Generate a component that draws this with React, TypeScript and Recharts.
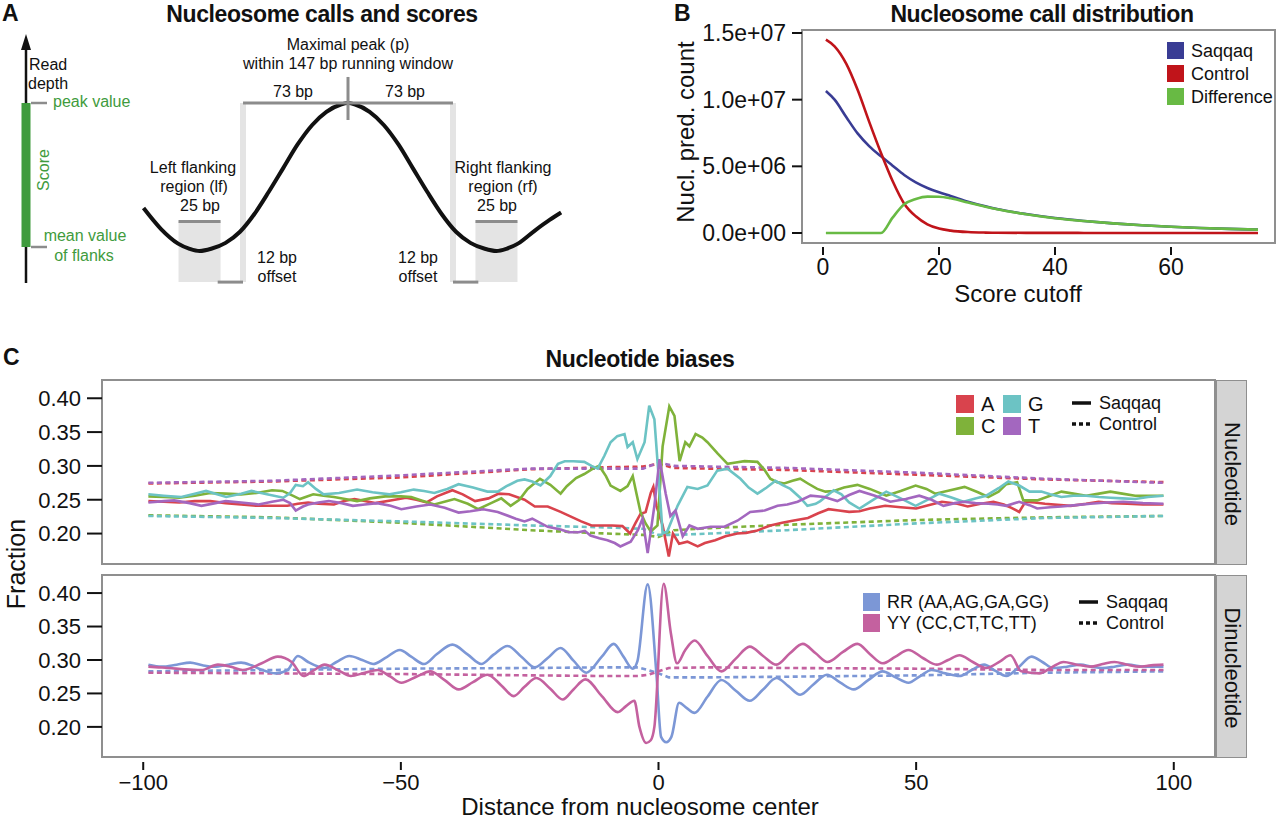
import React from 'react';
import { LineChart, Line, XAxis, YAxis, ReferenceArea, ReferenceLine } from 'recharts';

type Pt = [number, number];

// ---------- Panel A: schematic read-depth profile (bp from peak, relative depth)
const schemePos = [-142, -130, -118, -110, -103, -95, -85, -75, -65, -55, -45, -35, -25, -15, -5, 0, 5, 15, 25, 35, 45, 55, 65, 75, 85, 95, 103, 110, 118, 130, 140, 148];
const schemeDepth = [0.29, 0.15, 0.05, 0.015, 0, 0.015, 0.055, 0.13, 0.25, 0.4, 0.56, 0.72, 0.85, 0.94, 0.99, 1, 0.99, 0.94, 0.85, 0.72, 0.56, 0.4, 0.25, 0.13, 0.055, 0.015, 0, 0.015, 0.05, 0.14, 0.21, 0.26];

// ---------- Panel B: nucleosome call distribution
const cutoffs = [0.5, 2, 4, 6, 8, 10, 12, 14, 16, 18, 20, 22, 25, 28, 30, 35, 40, 45, 50, 55, 60, 65, 70, 75];
const saqqaqCounts = [10.65e6, 10.0e6, 8.7e6, 7.45e6, 6.5e6, 5.75e6, 5.05e6, 4.35e6, 3.8e6, 3.38e6, 3.05e6, 2.78e6, 2.35e6, 2.0e6, 1.8e6, 1.42e6, 1.12e6, 0.9e6, 0.72e6, 0.58e6, 0.47e6, 0.38e6, 0.31e6, 0.25e6];
const controlCounts = [14.5e6, 14.0e6, 12.7e6, 10.7e6, 8.3e6, 6.0e6, 3.9e6, 2.2e6, 1.25e6, 0.65e6, 0.33e6, 0.18e6, 0.07e6, 0.03e6, 0.02e6, 0.01e6, 0.01e6, 0.005e6, 0, 0, 0, 0, 0, 0];
const differenceCounts = [0, 0, 0, 0, 0, 0, 1.15e6, 2.15e6, 2.55e6, 2.73e6, 2.72e6, 2.6e6, 2.28e6, 1.97e6, 1.78e6, 1.41e6, 1.11e6, 0.895e6, 0.72e6, 0.58e6, 0.47e6, 0.38e6, 0.31e6, 0.25e6];
const bLegend = ['Saqqaq', 'Control', 'Difference'];
const bColors = ['#393C94', '#C0141A', '#68BA44'];

// ---------- Panel C: nucleotide fractions around nucleosome centre
const ntA: Pt[] = [[-99,0.248],[-96,0.247],[-93,0.246],[-90,0.248],[-87,0.248],[-84,0.245],[-81,0.243],[-78,0.241],[-75,0.241],[-72,0.241],[-70,0.244],[-68,0.246],[-66,0.244],[-63,0.243],[-61,0.248],[-59,0.251],[-57,0.248],[-55,0.245],[-52,0.249],[-49,0.253],[-47,0.25],[-45,0.246],[-43,0.255],[-40,0.264],[-38,0.258],[-35.6,0.248],[-33,0.252],[-31,0.259],[-29,0.258],[-26,0.25],[-24,0.24],[-21.5,0.24],[-19,0.232],[-17,0.225],[-15,0.218],[-13,0.212],[-11,0.212],[-9,0.212],[-7,0.211],[-5.5,0.2],[-4.5,0.215],[-3.5,0.229],[-2.5,0.232],[-1.5,0.26],[-1,0.269],[-0.4,0.241],[0.8,0.212],[2,0.166],[2.8,0.2],[4,0.185],[5.6,0.188],[7.6,0.181],[9,0.186],[11,0.19],[13,0.196],[15.3,0.2],[17,0.201],[19,0.204],[21.7,0.212],[24,0.216],[26,0.219],[29,0.223],[31,0.23],[33,0.236],[35,0.234],[37,0.232],[39,0.233],[41,0.237],[44,0.241],[47,0.239],[50,0.237],[52,0.241],[55,0.247],[58,0.244],[60,0.24],[62.5,0.244],[65,0.247],[67,0.243],[68.5,0.238],[70,0.232],[71.2,0.247],[73,0.246],[75,0.244],[78,0.242],[80,0.241],[83,0.244],[85.4,0.247],[88,0.245],[91,0.244],[94,0.243],[98,0.243]];
const ntC: Pt[] = [[-99,0.255],[-96,0.254],[-93,0.253],[-90,0.256],[-87,0.26],[-84,0.259],[-81,0.258],[-78,0.26],[-75,0.264],[-73,0.263],[-71,0.256],[-69.6,0.251],[-67,0.258],[-65,0.256],[-63,0.254],[-60,0.25],[-58.5,0.248],[-56,0.252],[-53,0.255],[-50,0.255],[-48,0.254],[-46,0.249],[-43.5,0.243],[-41,0.248],[-39.6,0.251],[-37,0.244],[-35,0.236],[-32.5,0.245],[-30.5,0.252],[-28.7,0.241],[-27,0.25],[-25.4,0.266],[-23,0.281],[-21,0.272],[-19,0.259],[-17.8,0.27],[-16,0.282],[-14.4,0.288],[-12.5,0.297],[-11.5,0.3],[-10.2,0.285],[-9.3,0.271],[-7.4,0.263],[-6,0.27],[-5,0.285],[-4.3,0.26],[-3.5,0.232],[-2.5,0.215],[-1.5,0.203],[-0.2,0.212],[0.8,0.329],[2.1,0.388],[3.1,0.374],[4.1,0.307],[5.2,0.335],[6,0.329],[7.2,0.347],[8.5,0.342],[9.5,0.335],[11.5,0.318],[13.4,0.303],[15,0.305],[16.7,0.307],[19.2,0.306],[20.5,0.295],[21.7,0.281],[23,0.276],[24.4,0.274],[26,0.278],[27.5,0.281],[29,0.274],[30.8,0.266],[32.4,0.262],[34,0.263],[36,0.268],[38.6,0.272],[41,0.266],[44.2,0.256],[47,0.263],[49.9,0.271],[52,0.266],[53.7,0.259],[56,0.263],[59.4,0.269],[62,0.261],[64,0.254],[66,0.262],[67.5,0.273],[69.6,0.276],[70.8,0.249],[73.5,0.249],[76,0.256],[78.2,0.262],[80.5,0.259],[83,0.256],[85.5,0.259],[87.7,0.262],[90,0.259],[92.5,0.256],[95,0.256],[98,0.256]];
const ntG: Pt[] = [[-99,0.258],[-96,0.256],[-92.6,0.254],[-90,0.259],[-87.8,0.263],[-86,0.259],[-83.9,0.254],[-81,0.259],[-79,0.263],[-76,0.258],[-72.8,0.253],[-71.5,0.26],[-70.4,0.272],[-69,0.27],[-68,0.276],[-66.5,0.266],[-65,0.258],[-62,0.26],[-58.5,0.265],[-55.5,0.261],[-52.2,0.258],[-50,0.261],[-47.5,0.265],[-45.5,0.263],[-43.5,0.26],[-41,0.266],[-38.8,0.273],[-36,0.268],[-33.2,0.262],[-31.2,0.262],[-29.5,0.27],[-27.4,0.278],[-26,0.28],[-24.5,0.277],[-22.9,0.271],[-21,0.285],[-19.5,0.303],[-18.2,0.307],[-16.5,0.307],[-14.4,0.306],[-13,0.3],[-11.8,0.296],[-10.5,0.315],[-9.3,0.335],[-8,0.344],[-6.6,0.347],[-6,0.328],[-5,0.335],[-4.1,0.31],[-2.7,0.335],[-1.8,0.389],[-0.8,0.369],[0.2,0.266],[0.8,0.2],[1.7,0.203],[3.7,0.241],[5.6,0.269],[7.6,0.266],[9.5,0.271],[11.4,0.293],[13.4,0.296],[15.9,0.281],[17.5,0.268],[19.2,0.259],[21,0.268],[22.7,0.278],[24,0.272],[25.6,0.266],[27.5,0.253],[28.9,0.241],[30.5,0.244],[31.4,0.248],[34,0.264],[35.5,0.258],[37,0.246],[39,0.237],[41.5,0.249],[44.2,0.262],[47,0.252],[49.9,0.241],[52,0.249],[54.5,0.259],[57,0.253],[59.2,0.247],[61.5,0.252],[63.6,0.256],[66,0.267],[67.9,0.277],[70,0.271],[72,0.262],[74.3,0.262],[76,0.258],[78.2,0.254],[80.5,0.256],[83,0.256],[85.5,0.254],[87.7,0.253],[90,0.252],[92.5,0.251],[95,0.254],[98,0.256]];
const ntT: Pt[] = [[-99,0.246],[-96,0.248],[-94,0.249],[-91,0.245],[-88.7,0.241],[-86,0.245],[-84,0.248],[-81,0.246],[-77.6,0.243],[-75,0.247],[-72.8,0.25],[-71.5,0.245],[-70.4,0.234],[-69,0.24],[-68,0.243],[-66,0.246],[-64,0.248],[-61.5,0.245],[-59.3,0.241],[-57,0.243],[-54.6,0.245],[-52,0.241],[-49.9,0.236],[-47,0.24],[-44.3,0.243],[-41.5,0.238],[-38.8,0.231],[-36.5,0.233],[-34,0.236],[-31.2,0.232],[-27.7,0.222],[-26,0.218],[-24.5,0.222],[-21.5,0.21],[-19,0.206],[-17.4,0.202],[-15.5,0.202],[-14.3,0.204],[-13.2,0.197],[-11.5,0.193],[-9.9,0.19],[-8.5,0.186],[-7.4,0.181],[-5.4,0.188],[-4,0.205],[-3.1,0.222],[-2.1,0.171],[-0.8,0.241],[0.2,0.31],[1.4,0.259],[2.3,0.226],[3.3,0.234],[4.7,0.196],[6,0.212],[7.6,0.207],[10.1,0.21],[12.8,0.21],[15.3,0.219],[17.8,0.232],[20.6,0.234],[23.1,0.241],[25,0.243],[27,0.247],[29.5,0.256],[32.2,0.254],[34.7,0.248],[37,0.257],[39,0.263],[42,0.256],[45,0.247],[48,0.251],[50.6,0.256],[53,0.25],[55.3,0.241],[57.5,0.245],[59.2,0.247],[61.5,0.245],[64,0.244],[65.8,0.243],[67.5,0.241],[70,0.247],[72,0.242],[73.5,0.237],[76,0.239],[78.2,0.24],[81,0.242],[83.8,0.244],[87,0.246],[90.2,0.247],[94,0.245],[98,0.244]];
const ctrlA: Pt[] = [[-99,0.274],[-75,0.277],[-50,0.283],[-25,0.295],[-10,0.298],[-3,0.299],[0,0.303],[3,0.297],[10,0.296],[25,0.294],[50,0.287],[75,0.28],[98,0.276]];
const ctrlC: Pt[] = [[-99,0.227],[-75,0.224],[-50,0.216],[-25,0.205],[-10,0.2],[-3,0.198],[0,0.195],[3,0.205],[10,0.208],[25,0.213],[50,0.22],[75,0.224],[98,0.226]];
const ctrlG: Pt[] = [[-99,0.226],[-75,0.223],[-50,0.218],[-25,0.212],[-10,0.209],[-3,0.207],[0,0.198],[3,0.198],[10,0.2],[25,0.205],[50,0.215],[75,0.223],[98,0.226]];
const ctrlT: Pt[] = [[-99,0.275],[-75,0.278],[-50,0.286],[-25,0.296],[-10,0.296],[-3,0.296],[0,0.305],[3,0.3],[10,0.299],[25,0.297],[50,0.29],[75,0.281],[98,0.275]];

const dnRR: Pt[] = [[-99,0.293],[-96.4,0.29],[-93.5,0.293],[-90.9,0.296],[-88.5,0.292],[-86.2,0.29],[-83.5,0.293],[-81,0.296],[-79,0.292],[-77.5,0.287],[-74.3,0.28],[-72,0.285],[-70,0.306],[-68,0.297],[-66,0.29],[-64.8,0.288],[-62.5,0.297],[-60,0.306],[-57.5,0.3],[-55.4,0.294],[-53,0.303],[-50.2,0.315],[-48,0.305],[-45.5,0.294],[-43,0.309],[-40,0.323],[-37,0.308],[-34.4,0.294],[-32,0.308],[-29.3,0.321],[-26.5,0.304],[-24,0.289],[-21.5,0.303],[-19,0.318],[-16.5,0.299],[-14,0.281],[-11,0.305],[-8.7,0.324],[-6.8,0.305],[-5,0.287],[-4.1,0.298],[-2.1,0.413],[-0.4,0.279],[0.5,0.185],[1.5,0.177],[2.5,0.185],[4,0.236],[5.5,0.228],[7,0.221],[9.5,0.245],[12.2,0.27],[15,0.254],[17.7,0.239],[20.3,0.256],[22.9,0.273],[25.2,0.261],[27.5,0.248],[30,0.263],[32.7,0.278],[35.3,0.266],[37.9,0.256],[40.7,0.27],[43.5,0.283],[46,0.274],[48.5,0.266],[50.8,0.276],[53,0.285],[55.7,0.28],[58.4,0.276],[60.8,0.285],[63.2,0.293],[65.3,0.284],[67.5,0.276],[70,0.29],[72.4,0.305],[74.5,0.297],[76.6,0.288],[79.3,0.29],[81.9,0.293],[84,0.29],[86.1,0.288],[88.5,0.29],[91,0.293],[94.5,0.29],[98,0.29]];
const dnYY: Pt[] = [[-99,0.29],[-97,0.289],[-95,0.288],[-92,0.286],[-88.7,0.285],[-85.5,0.293],[-83,0.29],[-80.7,0.285],[-77,0.295],[-73.9,0.305],[-71.2,0.297],[-68.9,0.276],[-67,0.284],[-64.8,0.293],[-62,0.284],[-59.7,0.276],[-57,0.281],[-54.5,0.285],[-52,0.275],[-49.9,0.266],[-47,0.275],[-44.3,0.283],[-41.5,0.27],[-38.8,0.256],[-36,0.267],[-33.2,0.278],[-30.5,0.262],[-28.1,0.246],[-26,0.26],[-23.7,0.273],[-21,0.257],[-18.6,0.241],[-16.5,0.256],[-14.2,0.271],[-11,0.246],[-7.9,0.222],[-6.3,0.231],[-4.7,0.239],[-3.7,0.2],[-2.4,0.176],[-1.5,0.18],[-0.8,0.2],[1,0.414],[2.4,0.34],[3.6,0.295],[5.2,0.315],[7,0.329],[9.5,0.306],[12.2,0.283],[15,0.302],[17.7,0.32],[20.3,0.306],[22.9,0.293],[25.5,0.31],[28,0.324],[30.5,0.31],[32.8,0.297],[35.8,0.312],[38.6,0.324],[41,0.309],[43.5,0.295],[46,0.305],[48.5,0.315],[51.3,0.303],[54,0.293],[56.2,0.3],[58.4,0.307],[61,0.297],[63.6,0.288],[66.3,0.298],[68.3,0.307],[70.4,0.283],[73.9,0.28],[76.3,0.289],[78.6,0.297],[81.2,0.293],[83.8,0.29],[86.2,0.294],[88.5,0.297],[91,0.293],[93.3,0.29],[95.6,0.292],[98,0.293]];
const ctrlRR: Pt[] = [[-99,0.283],[-75,0.285],[-50,0.287],[-25,0.288],[-10,0.289],[-4,0.289],[-2,0.285],[0,0.28],[2,0.274],[10,0.274],[25,0.275],[50,0.277],[75,0.281],[98,0.283]];
const ctrlYY: Pt[] = [[-99,0.281],[-75,0.28],[-50,0.279],[-25,0.277],[-10,0.276],[-4,0.276],[-2,0.278],[0,0.283],[2,0.288],[10,0.289],[25,0.288],[50,0.287],[75,0.285],[98,0.285]];

const distTicks = [-100, -50, 0, 50, 100];
const fracTicks = [0.2, 0.25, 0.3, 0.35, 0.4];
const countTicks = [0, 5e6, 1e7, 1.5e7];
const cutoffTicks = [0, 20, 40, 60];

const nucleotides = [
  { name: 'A', color: '#D9434D', saqqaq: ntA, control: ctrlA },
  { name: 'C', color: '#7FB23A', saqqaq: ntC, control: ctrlC },
  { name: 'G', color: '#6CC3C4', saqqaq: ntG, control: ctrlG },
  { name: 'T', color: '#A367BF', saqqaq: ntT, control: ctrlT },
];
const dinucleotides = [
  { name: 'RR (AA,AG,GA,GG)', color: '#7C97D6', saqqaq: dnRR, control: ctrlRR },
  { name: 'YY (CC,CT,TC,TT)', color: '#C4619F', saqqaq: dnYY, control: ctrlYY },
];

const SANS = '"Liberation Sans", Arial, Helvetica, sans-serif';
const GREEN = '#3F9B3D';
const BORDER = '#8F8F8F';

const rows = (pts: Pt[]) => pts.map(([x, y]) => ({ x, y }));

const sci = (v: number) => {
  const [m, e] = v.toExponential(1).split('e');
  const n = Number(e);
  return `${m}e${n < 0 ? '-' : '+'}${String(Math.abs(n)).padStart(2, '0')}`;
};
const minus = (v: number) => (v < 0 ? '\u2212' + Math.abs(v) : String(v));

function Txt({ x, y, children, size = 16, color = '#111', bold = false, anchor = 'middle', rotate = 0, spacing = 0 }: any) {
  const tx = anchor === 'middle' ? '-50%' : anchor === 'end' ? '-100%' : '0';
  return (
    <div style={{
      position: 'absolute', left: x, top: y, whiteSpace: 'nowrap', lineHeight: 1,
      transform: `translate(${tx}, -50%) rotate(${rotate}deg)`,
      fontSize: size, color, fontWeight: bold ? 700 : 400, letterSpacing: spacing,
    }}>{children}</div>
  );
}

// bottom axis tick with a small gap under the panel border (ggplot style)
function GapTick(props: any) {
  const { x, y, payload, gap, len, size, fmt, pad } = props;
  return (
    <g>
      <line x1={x} x2={x} y1={y + gap} y2={y + gap + len} stroke="#111" strokeWidth={2} />
      <text x={x} y={y + gap + len + pad} dy="0.72em" textAnchor="middle" fontSize={size} fill="#111">{fmt(payload.value)}</text>
    </g>
  );
}

function PanelA() {
  const schemeRows = schemePos.map((p, i) => ({ pos: p, depth: schemeDepth[i] }));
  const win = 72.9, flankIn = 88.5, flankOut = 117.7, flankTop = 0.2, base = -0.21;
  const grey = '#8C8C8C', light = '#E4E4E4';
  return (
    <>
      <svg style={{ position: 'absolute', left: 0, top: 0 }} width={60} height={300}>
        <line x1={26} x2={26} y1={46} y2={283} stroke="#111" strokeWidth={2.5} />
        <polygon points="26,34 21,50 31,50" fill="#111" />
        <rect x={21.5} y={103} width={9} height={144} fill={GREEN} />
        <line x1={31} x2={47} y1={103} y2={103} stroke={grey} strokeWidth={2.5} />
        <line x1={31} x2={47} y1={247} y2={247} stroke={grey} strokeWidth={2.5} />
      </svg>
      <div style={{ position: 'absolute', left: 0, top: 0 }}>
        <LineChart width={580} height={300} data={schemeRows} margin={{ top: 0, right: 0, bottom: 0, left: 0 }}>
          <XAxis dataKey="pos" type="number" domain={[-241.67, 161.11]} hide allowDataOverflow />
          <YAxis type="number" domain={[-0.331, 1.696]} hide allowDataOverflow />
          <ReferenceArea x1={-flankOut} x2={-flankIn} y1={base} y2={flankTop} fill={light} fillOpacity={1} stroke="none" />
          <ReferenceArea x1={flankIn} x2={flankOut} y1={base} y2={flankTop} fill={light} fillOpacity={1} stroke="none" />
          <ReferenceLine segment={[{ x: -win, y: base }, { x: -win, y: 1 }]} stroke={light} strokeWidth={6} />
          <ReferenceLine segment={[{ x: win, y: base }, { x: win, y: 1 }]} stroke={light} strokeWidth={6} />
          <ReferenceLine segment={[{ x: -flankOut, y: flankTop }, { x: -flankIn, y: flankTop }]} stroke={grey} strokeWidth={3} />
          <ReferenceLine segment={[{ x: flankIn, y: flankTop }, { x: flankOut, y: flankTop }]} stroke={grey} strokeWidth={3} />
          <ReferenceLine segment={[{ x: -flankIn - 2, y: base }, { x: -win, y: base }]} stroke={grey} strokeWidth={3} />
          <ReferenceLine segment={[{ x: win, y: base }, { x: flankIn + 2, y: base }]} stroke={grey} strokeWidth={3} />
          <Line dataKey="depth" type="monotone" stroke="#111" strokeWidth={4} dot={false} activeDot={false} isAnimationActive={false} />
          <ReferenceLine segment={[{ x: -win, y: 1 }, { x: win, y: 1 }]} stroke={grey} strokeWidth={3} />
          <ReferenceLine segment={[{ x: 0, y: 0.885 }, { x: 0, y: 1.176 }]} stroke={grey} strokeWidth={3} />
        </LineChart>
      </div>
      <Txt x={2} y={13} size={23} bold anchor="start">A</Txt>
      <Txt x={322} y={14} size={23} bold spacing={-0.4}>Nucleosome calls and scores</Txt>
      <Txt x={29} y={65} anchor="start">Read</Txt>
      <Txt x={28} y={84} anchor="start">depth</Txt>
      <Txt x={53} y={102} color={GREEN} anchor="start">peak value</Txt>
      <Txt x={44} y={170} color={GREEN} rotate={-90}>Score</Txt>
      <Txt x={85} y={236} color={GREEN}>mean value</Txt>
      <Txt x={84} y={256} color={GREEN}>of flanks</Txt>
      <Txt x={348} y={45} >Maximal peak (p)</Txt>
      <Txt x={348} y={64} >within 147 bp running window</Txt>
      <Txt x={293} y={92} >73 bp</Txt>
      <Txt x={405} y={92} >73 bp</Txt>
      <Txt x={193} y={168} >Left flanking</Txt>
      <Txt x={194} y={187} >region (lf)</Txt>
      <Txt x={200} y={206} >25 bp</Txt>
      <Txt x={503} y={168} >Right flanking</Txt>
      <Txt x={503} y={187} >region (rf)</Txt>
      <Txt x={497} y={206} >25 bp</Txt>
      <Txt x={277} y={258} >12 bp</Txt>
      <Txt x={277} y={277} >offset</Txt>
      <Txt x={418} y={258} >12 bp</Txt>
      <Txt x={418} y={277} >offset</Txt>
    </>
  );
}

function PanelB() {
  const bRows = cutoffs.map((c, i) => ({ cutoff: c, saqqaq: saqqaqCounts[i], control: controlCounts[i], difference: differenceCounts[i] }));
  const xDom: [number, number] = [-3.62, 77.93];
  const yDom: [number, number] = [-750000, 15225000];
  return (
    <>
      <div style={{ position: 'absolute', left: 580, top: 20 }}>
        <LineChart width={700} height={300} data={bRows} margin={{ top: 10, right: 5, bottom: 32, left: 122 }}>
          <XAxis dataKey="cutoff" type="number" domain={xDom} ticks={cutoffTicks} allowDataOverflow axisLine={false}
            tickLine={false} tickSize={0} tickMargin={0} height={45} interval={0}
            tick={<GapTick gap={4} len={8} size={23} pad={3} fmt={String} />} />
          <YAxis type="number" domain={yDom} ticks={countTicks} allowDataOverflow axisLine={false} width={100}
            tickFormatter={sci} tickSize={10} tickMargin={6} interval={0}
            tickLine={{ stroke: '#111', strokeWidth: 2 }} tick={{ fontSize: 23, fill: '#111' }} />
          <ReferenceArea x1={xDom[0]} x2={xDom[1]} y1={yDom[0]} y2={yDom[1]} fill="none" stroke={BORDER} strokeWidth={2} />
          <Line dataKey="saqqaq" type="monotone" stroke={bColors[0]} strokeWidth={2.6} dot={false} isAnimationActive={false} />
          <Line dataKey="control" type="monotone" stroke={bColors[1]} strokeWidth={2.6} dot={false} isAnimationActive={false} />
          <Line dataKey="difference" type="monotone" stroke={bColors[2]} strokeWidth={2.6} dot={false} isAnimationActive={false} />
        </LineChart>
      </div>
      {bLegend.map((name, i) => (
        <React.Fragment key={name}>
          <div style={{ position: 'absolute', left: 1167, top: 42 + i * 23, width: 17, height: 17, background: bColors[i] }} />
          <Txt x={1191} y={51 + i * 23} size={18} anchor="start">{name}</Txt>
        </React.Fragment>
      ))}
      <Txt x={674} y={13} size={23} bold anchor="start">B</Txt>
      <Txt x={1042} y={14} size={23} bold spacing={-0.4}>Nucleosome call distribution</Txt>
      <Txt x={686} y={132} size={24} rotate={-90}>Nucl. pred. count</Txt>
      <Txt x={1018} y={294} size={24}>Score cutoff</Txt>
    </>
  );
}

function FacetChart({ series, top, height, bottomAxis, curve }: any) {
  const xDom: [number, number] = [-108, 108];
  const yDom: [number, number] = [0.155, 0.427];
  return (
    <div style={{ position: 'absolute', left: 0, top }}>
      <LineChart width={1230} height={height} margin={{ top: 10, right: 15, bottom: bottomAxis ? 22 : 6, left: 12 }}>
        <XAxis dataKey="x" type="number" domain={xDom} ticks={distTicks} allowDataOverflow hide={!bottomAxis}
          axisLine={false} tickLine={false} tickSize={0} tickMargin={0} height={40} interval={0}
          tick={<GapTick gap={5} len={8} size={22} pad={4} fmt={minus} />} />
        <YAxis type="number" domain={yDom} ticks={fracTicks} allowDataOverflow axisLine={false} width={90}
          tickFormatter={(v: number) => v.toFixed(2)} tickSize={15} tickMargin={6} interval={0}
          tickLine={{ stroke: '#111', strokeWidth: 2 }} tick={{ fontSize: 22, fill: '#111' }} />
        <ReferenceArea x1={xDom[0]} x2={xDom[1]} y1={yDom[0]} y2={yDom[1]} fill="none" stroke={BORDER} strokeWidth={2} />
        {series.map((s: any) => (
          <Line key={s.name + '-ctrl'} data={rows(s.control)} dataKey="y" type="linear" stroke={s.color}
            strokeWidth={2.6} strokeDasharray="5 3.5" dot={false} isAnimationActive={false} />
        ))}
        {series.map((s: any) => (
          <Line key={s.name} data={rows(s.saqqaq)} dataKey="y" type={curve} stroke={s.color}
            strokeWidth={2.6} dot={false} isAnimationActive={false} />
        ))}
      </LineChart>
    </div>
  );
}

function Strip({ top, height, label }: any) {
  return (
    <div style={{ position: 'absolute', left: 1216, top, width: 31, height, background: '#D4D4D4', border: `1px solid ${BORDER}`, boxSizing: 'border-box' }}>
      <Txt x={15} y={height / 2} size={22} rotate={90}>{label}</Txt>
    </div>
  );
}

function LineKey({ x, y }: any) {
  return (
    <>
      <svg style={{ position: 'absolute', left: x, top: y - 12 }} width={22} height={34}>
        <line x1={1} x2={20} y1={3} y2={3} stroke="#111" strokeWidth={3.5} />
        <line x1={1} x2={20} y1={24} y2={24} stroke="#111" strokeWidth={3.5} strokeDasharray="4 3" />
      </svg>
      <Txt x={x + 28} y={y - 9} size={18} anchor="start">Saqqaq</Txt>
      <Txt x={x + 28} y={y + 12} size={18} anchor="start">Control</Txt>
    </>
  );
}

function PanelC() {
  const grid = [nucleotides[0], nucleotides[2], nucleotides[1], nucleotides[3]];
  return (
    <>
      <Txt x={3} y={357} size={23} bold anchor="start">C</Txt>
      <Txt x={640} y={359} size={23} bold spacing={-0.4}>Nucleotide biases</Txt>
      <FacetChart series={nucleotides} top={370} height={200} bottomAxis={false} curve="linear" />
      <FacetChart series={dinucleotides} top={565} height={254} bottomAxis curve="monotone" />
      <Strip top={380} height={185} label="Nucleotide" />
      <Strip top={575} height={183} label="Dinucleotide" />
      {grid.map((n, i) => {
        const cx = 956 + (i % 2) * 47;
        const cy = 395 + Math.floor(i / 2) * 22;
        return (
          <React.Fragment key={n.name}>
            <div style={{ position: 'absolute', left: cx, top: cy, width: 18, height: 18, background: n.color }} />
            <Txt x={cx + 25} y={cy + 9} size={20} anchor="start">{n.name}</Txt>
          </React.Fragment>
        );
      })}
      <LineKey x={1071} y={412} />
      {dinucleotides.map((d, i) => (
        <React.Fragment key={d.name}>
          <div style={{ position: 'absolute', left: 863, top: 593 + i * 21, width: 17, height: 18, background: d.color }} />
          <Txt x={887} y={602 + i * 21} size={18} anchor="start">{d.name}</Txt>
        </React.Fragment>
      ))}
      <LineKey x={1078} y={611} />
      <Txt x={16} y={564} size={25} rotate={-90}>Fraction</Txt>
      <Txt x={640} y={807} size={24}>Distance from nucleosome center</Txt>
    </>
  );
}

export default function App() {
  return (
    <div style={{ position: 'absolute', left: 0, top: 0, width: 1280, height: 819, background: '#fff', fontFamily: SANS, color: '#111', overflow: 'hidden' }}>
      <PanelA />
      <PanelB />
      <PanelC />
    </div>
  );
}
